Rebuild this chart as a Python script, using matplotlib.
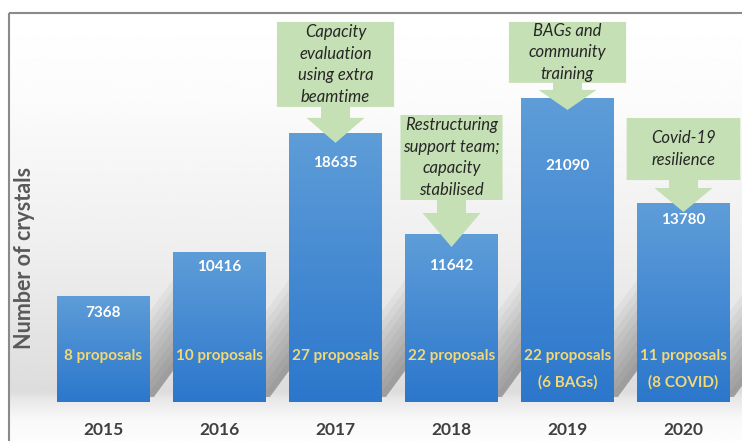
import numpy as np
import matplotlib
matplotlib.use('Agg')
import matplotlib.pyplot as plt
from matplotlib.colors import LinearSegmentedColormap
from matplotlib.patches import Polygon, Rectangle
from matplotlib.transforms import offset_copy

years = ['2015', '2016', '2017', '2018', '2019', '2020']
crystals = [7368, 10416, 18635, 11642, 21090, 13780]
proposals = ['8 proposals', '10 proposals', '27 proposals', '22 proposals',
             '22 proposals\n(6 BAGs)', '11 proposals\n(8 COVID)']
notes = ['', '', 'Capacity\nevaluation\nusing extra\nbeamtime',
         'Restructuring\nsupport team;\ncapacity\nstabilised',
         'BAGs and\ncommunity\ntraining', 'Covid-19\nresilience']

# layout (pixels below bar top for the value label, callout geometry in data units)
value_drop = [17, 15, 30, 32, 68, 17]
callouts = {  # idx: (half width, box top, box bottom, shaft end, tip)
    2: (0.505, 26360, 20470, 19710, 17980),
    3: (0.44, 19910, 14020, 13120, 10760),
    4: (0.505, 26360, 22140, 21650, 20260),
    5: (0.49, 19700, 15400, 14850, 13190),
}
W, H = 742, 441

plt.rcParams['font.family'] = ['Lato', 'DejaVu Sans']
plt.rcParams['image.composite_image'] = False
fig = plt.figure(figsize=(W / 100, H / 100), dpi=100)

# background panel with vertical gradient
bg = fig.add_axes([0, 0, 1, 1], zorder=-2)
bg.set_xlim(0, W)
bg.set_ylim(H, 0)
bg.axis('off')
ys = np.linspace(13, H, 300)
stops_y = [13, 100, 250, 392, 400, 420, 441]
stops_v = [1.0, 0.985, 0.935, 0.865, 0.91, 0.975, 0.99]
shade = np.interp(ys, stops_y, stops_v)
img = np.repeat(shade[:, None], 2, axis=1)
bg.imshow(img, cmap='gray', vmin=0, vmax=1, extent=(9, W + 5, H, 13), aspect='auto',
          interpolation='bilinear')
bg.add_patch(Rectangle((9, 13), W, H, fill=False, ec='#8a8a8a', lw=1.5))

ax = fig.add_axes([45.5 / W, 44 / H, 696 / W, 384 / H])
ax.set_facecolor('none')
x = np.arange(len(years))

bar_cmap = LinearSegmentedColormap.from_list('b', ['#2c77cc', '#5e9dd8'])
grad = np.linspace(0, 1, 256)[:, None]

bars = ax.bar(x, crystals, width=0.8, color='#4a8bd4', zorder=3)
for b in bars:
    # soft cast shadow to the right of each bar, built from stacked translucent slices
    xr = b.get_x() + b.get_width()
    for k in range(1, 10):
        top = 700 * k
        ax.add_patch(Polygon([(xr, 0), (xr + 0.21, 2300), (xr + 0.21, 2300 + top),
                              (xr, top)], closed=True, fc='black', ec='none',
                             alpha=0.035, zorder=1))
    # gradient fill of the bar
    bx, bw, bh = b.get_x(), b.get_width(), b.get_height()
    im = ax.imshow(grad, cmap=bar_cmap, extent=(bx, bx + bw, 0, bh), origin='lower',
                   aspect='auto', zorder=3, interpolation='bilinear')
    im.set_clip_path(b)
ax.set_xlim(-0.5, len(years) - 0.5)
ax.set_ylim(367, 26980)

# callouts
for i, (hw, top, bot, shaft, tip) in callouts.items():
    sw, hh = 0.125, 0.25
    pts = [(i - hw, top), (i + hw, top), (i + hw, bot), (i + sw, bot), (i + sw, shaft),
           (i + hh, shaft), (i, tip), (i - hh, shaft), (i - sw, shaft), (i - sw, bot),
           (i - hw, bot)]
    ax.add_patch(Polygon(pts, closed=True, fc='#c5e0b4', ec='none', zorder=5))
    ax.text(i, (top + bot) / 2, notes[i], ha='center', va='center', style='italic',
            fontsize=12, color='#262626', linespacing=1.42, zorder=6)

for i, v in enumerate(crystals):
    tr = offset_copy(ax.transData, fig=fig, x=0, y=-value_drop[i], units='dots')
    ax.text(i, v, str(v), transform=tr, ha='center', va='center', color='white',
            fontsize=11, fontweight='bold', zorder=6)
    for k, line in enumerate(proposals[i].split('\n')):
        tr = offset_copy(ax.transData, fig=fig, x=0, y=-26 * k, units='dots')
        ax.text(i, 3210, line, transform=tr, ha='center', va='center', color='#f3d873',
                fontsize=11, fontweight='bold', zorder=6)

ax.set_xticks(x)
ax.set_xticklabels(years, fontsize=12.5, fontweight='bold', color='#404040')
ax.tick_params(axis='x', length=0, pad=18)
ax.set_yticks([])
for s in ax.spines.values():
    s.set_visible(False)

fig.text(25 / W, 1 - 258 / H, 'Number of crystals', rotation=90, ha='center', va='center',
         fontsize=15.5, fontweight='bold', color='#595959')

fig.savefig('out.png', dpi=100)
